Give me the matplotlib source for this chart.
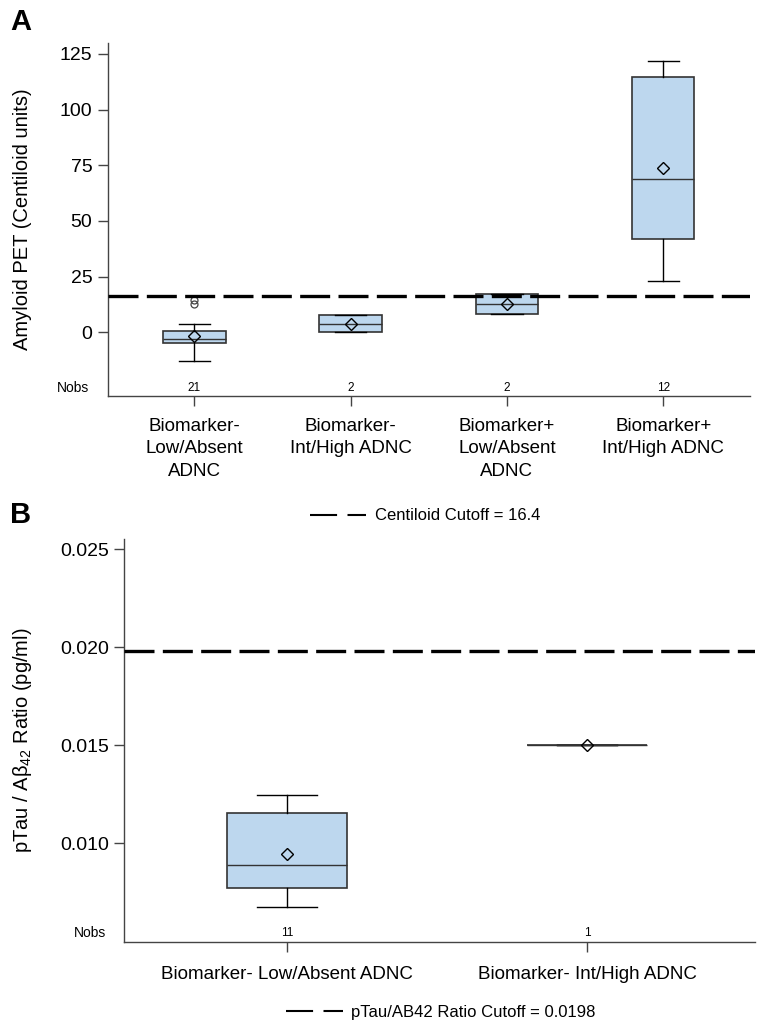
import matplotlib
matplotlib.use('Agg')
import matplotlib.pyplot as plt
from matplotlib.lines import Line2D
from matplotlib.transforms import blended_transform_factory

plt.rcParams['font.family'] = ['Liberation Sans', 'DejaVu Sans']

# Panel A: amyloid PET (Centiloid units), summary stats
groups_a = ['Biomarker-\nLow/Absent\nADNC', 'Biomarker-\nInt/High ADNC',
            'Biomarker+\nLow/Absent\nADNC', 'Biomarker+\nInt/High ADNC']
q1_a = [-4.9, 0.0, 8.1, 41.8]
med_a = [-3.0, 3.8, 12.6, 68.8]
q3_a = [0.7, 7.6, 17.2, 114.8]
lo_a = [-12.7, 0.0, 8.1, 23.0]
hi_a = [3.9, 7.6, 17.2, 121.8]
mean_a = [-1.7, 3.7, 12.6, 73.9]
fliers_a = [[14.4, 12.6], [], [], []]
nobs_a = [21, 2, 2, 12]
cutoff_a = 16.4

# Panel B: pTau / Abeta42 ratio
groups_b = ['Biomarker- Low/Absent ADNC', 'Biomarker- Int/High ADNC']
q1_b = [0.00772, 0.0150]
med_b = [0.00889, 0.0150]
q3_b = [0.01153, 0.0150]
lo_b = [0.00675, 0.0150]
hi_b = [0.01248, 0.0150]
mean_b = [0.00945, 0.0150]
fliers_b = [[], []]
nobs_b = [11, 1]
cutoff_b = 0.0198

box_fill = '#bdd7ee'
edge = '#333333'


def make_stats(q1, med, q3, lo, hi, mean, fliers):
    return [dict(q1=a, med=b, q3=c, whislo=d, whishi=e, mean=f, fliers=g)
            for a, b, c, d, e, f, g in zip(q1, med, q3, lo, hi, mean, fliers)]


def draw_panel(ax, stats, labels, nobs, cutoff):
    pos = list(range(1, len(stats) + 1))
    ax.bxp(stats, positions=pos, widths=0.4, patch_artist=True, showmeans=True,
           boxprops=dict(facecolor=box_fill, edgecolor=edge, linewidth=1.2),
           medianprops=dict(color=edge, linewidth=1.0),
           whiskerprops=dict(color='black', linewidth=1.0),
           capprops=dict(color='black', linewidth=1.0),
           meanprops=dict(marker='D', markersize=6, markerfacecolor='none',
                          markeredgecolor='black', markeredgewidth=1.0),
           flierprops=dict(marker='o', markersize=5, markerfacecolor='none',
                           markeredgecolor='#444444', markeredgewidth=0.9))
    ax.axhline(cutoff, color='black', linewidth=2.4, dashes=(9, 2.5), zorder=5)
    ax.set_xticks(pos)
    ax.set_xticklabels(labels, fontsize=13.5, linespacing=1.4)
    for s in ['top', 'right']:
        ax.spines[s].set_visible(False)
    for s in ['left', 'bottom']:
        ax.spines[s].set_color('#444444')
        ax.spines[s].set_linewidth(1.0)
    ax.tick_params(axis='y', length=7, width=1, color='#444444', labelsize=14, pad=4)
    ax.tick_params(axis='x', length=7, width=1, color='#444444', pad=9)
    tr = blended_transform_factory(ax.transData, ax.transAxes)
    for p, n in zip(pos, nobs):
        ax.text(p, 0.023, str(n), transform=tr, ha='center', va='center', fontsize=8.5)
    ax.text(-0.054, 0.023, 'Nobs', transform=ax.transAxes, ha='center', va='center',
            fontsize=10)


fig = plt.figure(figsize=(7.6, 10.3), dpi=100)

ax1 = fig.add_axes([0.1417, 0.6155, 0.8451, 0.3425])
draw_panel(ax1, make_stats(q1_a, med_a, q3_a, lo_a, hi_a, mean_a, fliers_a),
           groups_a, nobs_a, cutoff_a)
ax1.set_xlim(0.446, 4.555)
ax1.set_ylim(-28.6, 129.8)
ax1.set_yticks([0, 25, 50, 75, 100, 125])
ax1.set_ylabel('Amyloid PET (Centiloid units)', fontsize=14.5)
ax1.yaxis.set_label_coords(-0.118, 0.5)

ax2 = fig.add_axes([0.1632, 0.0851, 0.8302, 0.3916])
draw_panel(ax2, make_stats(q1_b, med_b, q3_b, lo_b, hi_b, mean_b, fliers_b),
           groups_b, nobs_b, cutoff_b)
ax2.set_xlim(0.457, 2.56)
ax2.set_ylim(0.00495, 0.02551)
ax2.set_yticks([0.010, 0.015, 0.020, 0.025])
ax2.set_yticklabels(['0.010', '0.015', '0.020', '0.025'])
ax2.set_ylabel(r'pTau / A$\mathregular{\beta_{42}}$ Ratio (pg/ml)', fontsize=14.5)
ax2.yaxis.set_label_coords(-0.142, 0.5)
ax2.tick_params(axis='x', pad=10)

# legends
h1 = Line2D([], [], color='black', linewidth=1.5, dashes=(13, 5))
fig.legend([h1], ['Centiloid Cutoff = 16.4'], loc='center',
           bbox_to_anchor=(425 / 760, 1 - 516 / 1030), frameon=False, fontsize=12,
           handlelength=3.4, handletextpad=0.5, borderpad=0)
h2 = Line2D([], [], color='black', linewidth=1.5, dashes=(13, 5))
fig.legend([h2], ['pTau/AB42 Ratio Cutoff = 0.0198'], loc='center',
           bbox_to_anchor=(441 / 760, 1 - 1012 / 1030), frameon=False, fontsize=12,
           handlelength=3.4, handletextpad=0.5, borderpad=0)

fig.text(10 / 760, 1 - 22 / 1030, 'A', fontsize=21, fontweight='bold', va='center')
fig.text(10 / 760, 1 - 515 / 1030, 'B', fontsize=21, fontweight='bold', va='center')

fig.savefig('out.png', dpi=100)
